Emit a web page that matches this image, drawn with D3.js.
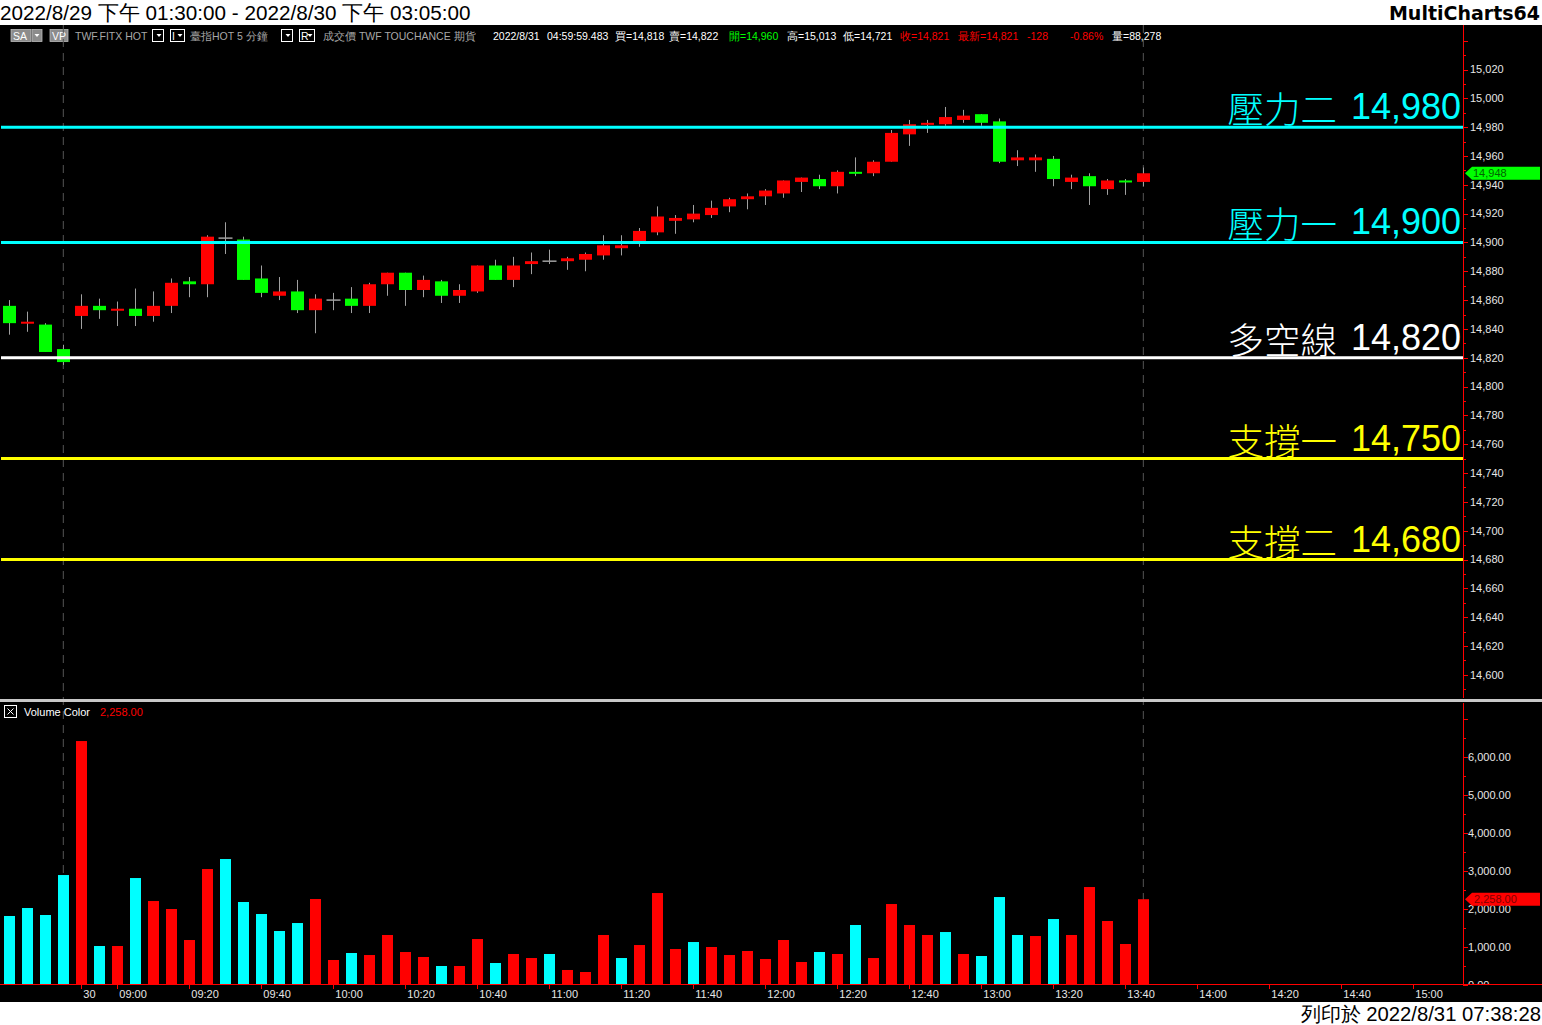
<!DOCTYPE html>
<html><head><meta charset="utf-8">
<script src="https://cdn.jsdelivr.net/npm/d3@7"></script>
<style>body{margin:0;background:#fff;overflow:hidden}svg{display:block}</style>
</head><body>
<script>
// ---------------- DATA ----------------
const barTimes = ["04:45","04:50","04:55","05:00",
 "08:50","08:55","09:00","09:05","09:10","09:15","09:20","09:25","09:30","09:35","09:40","09:45",
 "09:50","09:55","10:00","10:05","10:10","10:15","10:20","10:25","10:30","10:35","10:40","10:45",
 "10:50","10:55","11:00","11:05","11:10","11:15","11:20","11:25","11:30","11:35","11:40","11:45",
 "11:50","11:55","12:00","12:05","12:10","12:15","12:20","12:25","12:30","12:35","12:40","12:45",
 "12:50","12:55","13:00","13:05","13:10","13:15","13:20","13:25","13:30","13:35","13:40","13:45"];
const opens  = [14856,14844,14843,14826,14849,14856,14853,14854,14849,14856,14873,14871,14903,14902,14875,14863,
 14866,14853,14860,14861,14856,14871,14879,14867,14873,14863,14866,14884,14874,14885,14887,14887,
 14888,14891,14896,14900,14907,14915,14916,14919,14925,14930,14932,14934,14942,14944,14939,14949,
 14948,14956,14975,14982,14982,14985,14989,14984,14957,14957,14958,14942,14946,14937,14943,14942];
const highs  = [14860,14852,14844,14829,14864,14861,14859,14868,14866,14875,14876,14905,14914,14904,14884,14876,
 14874,14864,14865,14869,14872,14879,14879,14877,14874,14871,14884,14888,14890,14893,14895,14890,
 14893,14905,14905,14910,14925,14919,14926,14929,14931,14934,14937,14943,14945,14947,14950,14959,
 14957,14978,14985,14985,14994,14992,14989,14986,14964,14961,14960,14947,14948,14944,14944,14952];
const lows   = [14836,14838,14824,14815,14840,14847,14842,14842,14845,14851,14862,14862,14892,14874,14862,14860,
 14851,14837,14853,14851,14851,14863,14856,14862,14858,14858,14865,14874,14869,14878,14885,14881,
 14880,14888,14891,14897,14905,14906,14914,14917,14921,14923,14926,14931,14935,14937,14934,14946,
 14946,14956,14967,14976,14981,14983,14981,14955,14953,14949,14939,14937,14926,14933,14933,14939];
const closes = [14844,14845,14824,14817,14856,14853,14854,14849,14856,14872,14871,14904,14903,14874,14865,14866,
 14853,14861,14860,14856,14871,14879,14867,14874,14863,14867,14884,14874,14884,14887,14887,14889,
 14892,14898,14898,14908,14918,14917,14920,14924,14930,14932,14936,14943,14945,14939,14949,14948,
 14956,14976,14982,14983,14987,14988,14983,14956,14959,14959,14944,14945,14939,14943,14942,14948];
const volumes = [1816,2026,1842,2894,6420,1026,1026,2815,2210,2000,1184,3052,3315,2184,1868,1421,
 1631,2263,658,842,789,1316,868,737,500,500,1210,579,816,710,816,395,
 342,1316,710,1052,2420,947,1131,1000,789,895,684,1184,605,868,816,1579,
 710,2131,1579,1316,1394,816,763,2315,1316,1289,1736,1316,2578,1684,1079,2258];
const volDir = ["d","d","d","d","u","d","u","d","u","u","u","u","d","d","d","d",
 "d","u","u","d","u","u","u","u","d","u","u","d","u","u","d","u",
 "u","u","d","u","u","u","d","u","u","u","u","u","u","d","u","d",
 "u","u","u","u","d","u","d","d","d","u","d","u","u","u","u","u"];
const levelNames  = ["壓力二","壓力一","多空線","支撐一","支撐二"];
const levelValues = [14980,14900,14820,14750,14680];
const priceTicks = [15020,15000,14980,14960,14940,14920,14900,14880,14860,14840,14820,14800,14780,14760,14740,14720,14700,14680,14660,14640,14620,14600];
const volTicks = [0,1000,2000,3000,4000,5000,6000];
const timeTickIdx = [4,6,10,14,18,22,26,30,34,38,42,46,50,54,58,62,66,70,74,78];
const timeTickLabels = ["30","09:00","09:20","09:40","10:00","10:20","10:40","11:00","11:20","11:40","12:00","12:20","12:40","13:00","13:20","13:40","14:00","14:20","14:40","15:00"];
const sessionBreaks = [3,63];
const titleText = "2022/8/29 下午 01:30:00 - 2022/8/30 下午 03:05:00";
const footerText = "列印於 2022/8/31 07:38:28";
const lastPrice = 14948, lastVolume = 2258;

// ---------------- STYLE ----------------
const W=1542,H=1025, AXIS_X=1463;
const LEVEL_COLORS = ["#00ffff","#00ffff","#ffffff","#ffff00","#ffff00"];
const UP="#ff0000", DN="#00ff00", VUP="#ff0000", VDN="#00ffff", WICK="#a0a0a0";
const LAT="Liberation Sans, Arial, sans-serif";
const CJK="'Noto Sans CJK TC', 'Noto Sans CJK SC', sans-serif";

const svg=d3.select("body").append("svg").attr("width",W).attr("height",H);
svg.append("rect").attr("width",W).attr("height",H).attr("fill","#fff");
svg.append("rect").attr("x",0).attr("y",25).attr("width",W).attr("height",977).attr("fill","#000");

const x=d3.scaleLinear().domain([-0.517,80.76]).range([0,AXIS_X]);
const y=d3.scaleLinear().domain([14600,15020]).range([674.8,69.5]);
const yv=d3.scaleLinear().domain([0,6000]).range([985,757]);

// header / footer
svg.append("text").attr("x",0).attr("y",20).attr("font-family",LAT).attr("font-size",20.7).attr("fill","#000").text(titleText);
svg.append("text").attr("x",1540).attr("y",20).attr("text-anchor","end").attr("font-family","DejaVu Sans, sans-serif").attr("font-weight","bold").attr("font-size",19).attr("fill","#000").text("MultiCharts64");
svg.append("text").attr("x",1541).attr("y",1021).attr("text-anchor","end").attr("font-family",LAT).attr("font-size",20.3).attr("fill","#000").text(footerText);

// info bar
const info=svg.append("g").attr("font-family",LAT).attr("font-size",10.5);
function greyBox(x0,w,label){
  info.append("rect").attr("x",x0).attr("y",29.5).attr("width",w).attr("height",12).attr("fill","#8c8c8c").attr("stroke","#bbb").attr("stroke-width",0.8);
  info.append("text").attr("x",x0+2).attr("y",39.5).attr("fill","#fff").text(label);
}
function ddBox(x0,w,label){
  info.append("rect").attr("x",x0+0.5).attr("y",29.5).attr("width",w).attr("height",12).attr("fill","#000").attr("stroke","#fff").attr("stroke-width",1);
  if(label) info.append("text").attr("x",x0+2).attr("y",39.5).attr("fill","#fff").text(label);
  const ax=x0+w-4;
  info.append("path").attr("d",`M${ax-2.5},34 L${ax+2.5},34 L${ax},37 Z`).attr("fill","#fff");
}
greyBox(11,20,"SA");
info.append("rect").attr("x",32).attr("y",29.5).attr("width",10).attr("height",12).attr("fill","#8c8c8c").attr("stroke","#bbb").attr("stroke-width",0.8);
info.append("path").attr("d","M34.5,34 L39.5,34 L37,37 Z").attr("fill","#fff");
greyBox(50,18,"VP");
info.append("text").attr("x",75).attr("y",40).attr("fill","#a8a8a8").attr("font-size",10.5).text("TWF.FITX HOT");
ddBox(152,11,"");
ddBox(170,14,"I");
info.append("text").attr("x",190).attr("y",40).attr("fill","#a8a8a8").text("臺指HOT  5 分鐘");
ddBox(281,11,"");
ddBox(299,15,"R");
info.append("text").attr("x",323).attr("y",40).attr("fill","#a8a8a8").text("成交價   TWF   TOUCHANCE   期貨");
const infoItems=[[493,"2022/8/31","#fff"],[547,"04:59:59.483","#fff"],[615,"買=14,818","#fff"],[669,"賣=14,822","#fff"],
 [729,"開=14,960","#00ff00"],[787,"高=15,013","#fff"],[843,"低=14,721","#fff"],[900,"收=14,821","#ff0000"],
 [958,"最新=14,821","#ff0000"],[1027,"-128","#ff0000"],[1070,"-0.86%","#ff0000"],[1112,"量=88,278","#fff"]];
infoItems.forEach(d=>info.append("text").attr("x",d[0]).attr("y",40).attr("fill",d[2]).text(d[1]));

// dashed session lines
sessionBreaks.forEach(i=>svg.append("line").attr("x1",x(i)).attr("x2",x(i)).attr("y1",25).attr("y2",984)
  .attr("stroke","#555").attr("stroke-width",1).attr("stroke-dasharray","8,6"));

// candles
const idx=d3.range(barTimes.length);
const cw=13;
const cg=svg.append("g");
cg.selectAll("line.wick").data(idx).join("line").attr("class","wick")
  .attr("x1",i=>Math.round(x(i))+0.5).attr("x2",i=>Math.round(x(i))+0.5)
  .attr("y1",i=>y(highs[i])).attr("y2",i=>y(lows[i])).attr("stroke",WICK).attr("stroke-width",1);
cg.selectAll("rect.body").data(idx.filter(i=>opens[i]!==closes[i])).join("rect").attr("class","body")
  .attr("x",i=>Math.round(x(i))-6).attr("width",cw)
  .attr("y",i=>Math.min(y(opens[i]),y(closes[i])))
  .attr("height",i=>Math.max(2,Math.abs(y(opens[i])-y(closes[i]))))
  .attr("fill",i=>closes[i]>opens[i]?UP:DN);
cg.selectAll("line.doji").data(idx.filter(i=>opens[i]===closes[i])).join("line").attr("class","doji")
  .attr("x1",i=>Math.round(x(i))-6.5).attr("x2",i=>Math.round(x(i))+7.5)
  .attr("y1",i=>y(opens[i])).attr("y2",i=>y(opens[i])).attr("stroke",WICK).attr("stroke-width",1.5);

// level lines + labels
levelValues.forEach((v,k)=>{
  svg.append("line").attr("x1",1).attr("x2",AXIS_X).attr("y1",y(v)).attr("y2",y(v))
    .attr("stroke",LEVEL_COLORS[k]).attr("stroke-width",3);
  svg.append("text").attr("x",1461).attr("y",y(v)-8).attr("text-anchor","end")
    .attr("fill",LEVEL_COLORS[k]).attr("font-size",36).attr("font-family",LAT).text(d3.format(",")(v));
  svg.append("text").attr("x",1337).attr("y",y(v)-4).attr("text-anchor","end")
    .attr("fill",LEVEL_COLORS[k]).attr("font-size",36.5).attr("font-family",CJK).attr("font-weight",300).text(levelNames[k]);
});

// separator
svg.append("rect").attr("x",0).attr("y",699).attr("width",W).attr("height",3).attr("fill","#c8c8c8");

// price axis
svg.append("line").attr("x1",AXIS_X+0.5).attr("x2",AXIS_X+0.5).attr("y1",25).attr("y2",698).attr("stroke","#ff0000");
const minorP=d3.range(14590,15041,10);
svg.selectAll("line.pt").data(minorP).join("line").attr("class","pt")
  .attr("x1",AXIS_X).attr("x2",v=>AXIS_X+(v%20===0?5:3)).attr("y1",v=>Math.round(y(v))+0.5).attr("y2",v=>Math.round(y(v))+0.5).attr("stroke","#ff0000");
svg.selectAll("text.pl").data(priceTicks).join("text").attr("class","pl")
  .attr("x",1470).attr("y",v=>y(v)).attr("dy","0.35em").attr("font-family",LAT).attr("font-size",11).attr("fill","#e6e6e6")
  .text(d3.format(","));
// last price marker
const ly=y(lastPrice);
svg.append("path").attr("d",`M1465,${ly} L1472,${ly-6.5} L1540,${ly-6.5} L1540,${ly+6.5} L1472,${ly+6.5} Z`).attr("fill","#00ff00");
svg.append("text").attr("x",1473).attr("y",ly).attr("dy","0.35em").attr("font-family",LAT).attr("font-size",11).attr("fill","#006400").text(d3.format(",")(lastPrice));

// volume pane
svg.append("rect").attr("x",4.5).attr("y",705.5).attr("width",12).attr("height",12).attr("fill","none").attr("stroke","#fff");
svg.append("path").attr("d","M7.5,708.5 L13.5,714.5 M13.5,708.5 L7.5,714.5").attr("stroke","#fff").attr("stroke-width",1);
svg.append("text").attr("x",24).attr("y",716).attr("font-family",LAT).attr("font-size",11).attr("fill","#fff").text("Volume Color");
svg.append("text").attr("x",100).attr("y",716).attr("font-family",LAT).attr("font-size",11).attr("fill","#ff0000").text(d3.format(",.2f")(lastVolume));

svg.selectAll("rect.vol").data(idx).join("rect").attr("class","vol")
  .attr("x",i=>Math.round(x(i))-5).attr("width",11)
  .attr("y",i=>yv(volumes[i])).attr("height",i=>yv(0)-yv(volumes[i]))
  .attr("fill",i=>volDir[i]==="u"?VUP:VDN);

svg.append("defs").append("clipPath").attr("id","vclip").append("rect").attr("x",1440).attr("y",703).attr("width",110).attr("height",282);
svg.append("line").attr("x1",AXIS_X+0.5).attr("x2",AXIS_X+0.5).attr("y1",703).attr("y2",985).attr("stroke","#ff0000");
const minorV=d3.range(0,7001,500);
svg.selectAll("line.vt").data(minorV).join("line").attr("class","vt")
  .attr("x1",AXIS_X).attr("x2",v=>AXIS_X+(v%1000===0?5:3)).attr("y1",v=>Math.round(yv(v))+0.5).attr("y2",v=>Math.round(yv(v))+0.5).attr("stroke","#ff0000");
svg.append("g").attr("clip-path","url(#vclip)").selectAll("text").data(volTicks).join("text")
  .attr("x",1468).attr("y",v=>yv(v)).attr("dy","0.35em").attr("font-family",LAT).attr("font-size",11).attr("fill","#e6e6e6")
  .text(d3.format(",.2f"));
const vy=yv(lastVolume);
svg.append("path").attr("d",`M1465,${vy} L1472,${vy-6.5} L1540,${vy-6.5} L1540,${vy+6.5} L1472,${vy+6.5} Z`).attr("fill","#ff0000");
svg.append("text").attr("x",1474).attr("y",vy).attr("dy","0.35em").attr("font-family",LAT).attr("font-size",11).attr("fill","#800000").text(d3.format(",.2f")(lastVolume));

// x axis
svg.append("line").attr("x1",0).attr("x2",W).attr("y1",984.5).attr("y2",984.5).attr("stroke","#ff0000");
svg.selectAll("line.xt").data(timeTickIdx).join("line").attr("class","xt")
  .attr("x1",i=>Math.round(x(i))+0.5).attr("x2",i=>Math.round(x(i))+0.5).attr("y1",985).attr("y2",989).attr("stroke","#ff0000");
svg.selectAll("text.xl").data(timeTickIdx).join("text").attr("class","xl")
  .attr("x",i=>x(i)+2).attr("y",998).attr("font-family",LAT).attr("font-size",11).attr("fill","#e6e6e6")
  .text((i,k)=>timeTickLabels[k]);
</script>
</body></html>
